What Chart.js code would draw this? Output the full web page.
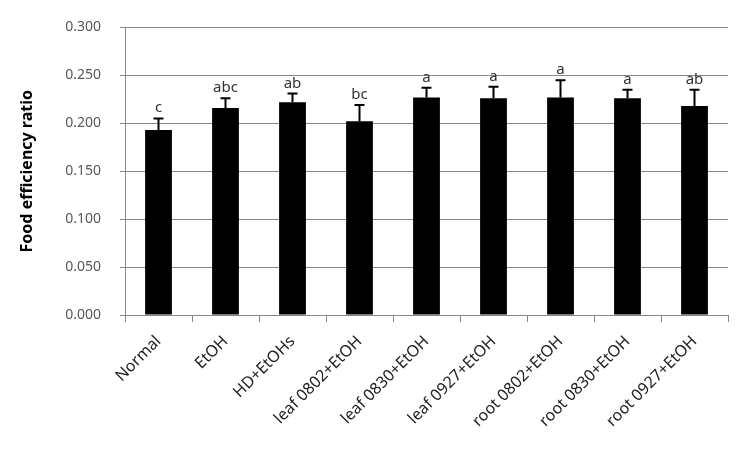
<!DOCTYPE html>
<html>
<head>
<meta charset="utf-8">
<script src="https://cdn.jsdelivr.net/npm/chart.js@4"></script>
<style>
  html, body { margin: 0; padding: 0; background: #fff; }
  #wrap { width: 752px; height: 451px; }
</style>
</head>
<body>
<div id="wrap"><canvas id="myChart"></canvas></div>
<script>
const categories = ["Normal", "EtOH", "HD+EtOHs", "leaf 0802+EtOH", "leaf 0830+EtOH",
  "leaf 0927+EtOH", "root 0802+EtOH", "root 0830+EtOH", "root 0927+EtOH"];
const ferValues = [0.193, 0.216, 0.222, 0.202, 0.227, 0.226, 0.227, 0.226, 0.218];
const ferErrors = [0.012, 0.010, 0.009, 0.017, 0.010, 0.012, 0.018, 0.009, 0.017];
const sigLetters = ["c", "abc", "ab", "bc", "a", "a", "a", "a", "ab"];
const yTicks = [0, 0.05, 0.1, 0.15, 0.2, 0.25, 0.3];

const ctx = document.getElementById("myChart");

// error bars (upper only) + significance letters above them
const errorBars = {
  id: "errorBars",
  afterDatasetsDraw(chart) {
    const c = chart.ctx;
    const meta = chart.getDatasetMeta(0);
    const y = chart.scales.y;
    c.save();
    c.strokeStyle = "#000";
    c.lineWidth = 2;
    meta.data.forEach((bar, i) => {
      const top = y.getPixelForValue(ferValues[i] + ferErrors[i]);
      const base = y.getPixelForValue(ferValues[i]);
      c.beginPath();
      c.moveTo(bar.x, base);
      c.lineTo(bar.x, top);
      c.moveTo(bar.x - 5, top);
      c.lineTo(bar.x + 5, top);
      c.stroke();
      c.fillStyle = "#333";
      c.font = "15px 'Noto Sans'";
      c.textAlign = "center";
      c.textBaseline = "alphabetic";
      c.fillText(sigLetters[i], bar.x, top - 6);
    });
    c.restore();
  }
};

new Chart(ctx, {
  type: "bar",
  data: {
    labels: categories,
    datasets: [{
      data: ferValues,
      backgroundColor: "#000",
      barPercentage: 0.4,
      categoryPercentage: 1.0
    }]
  },
  options: {
    responsive: true,
    maintainAspectRatio: false,
    animation: false,
    layout: { padding: { top: 25, right: 24, left: 18, bottom: 0 } },
    plugins: {
      legend: { display: false },
      tooltip: { enabled: false }
    },
    scales: {
      y: {
        min: 0,
        max: 0.3,
        afterBuildTicks: (s) => { s.ticks = yTicks.map(v => ({ value: v })); },
        afterFit: (s) => { s.width = 107; },
        border: { color: "#868686", width: 1 },
        grid: { color: "#868686", tickLength: 5, tickColor: "#868686" },
        ticks: {
          color: "#595959",
          padding: 19,
          font: { family: "'Noto Sans'", size: 14 },
          callback: (v) => Number(v).toFixed(3)
        },
        title: {
          display: true,
          text: "Food efficiency ratio",
          color: "#000",
          font: { family: "'Noto Sans'", size: 16, weight: "bold" },
          padding: { top: 0, bottom: 4 }
        }
      },
      x: {
        afterFit: (s) => { s.height = 136; },
        border: { color: "#868686", width: 1 },
        grid: { offset: true, drawOnChartArea: false, tickLength: 7, tickColor: "#868686" },
        ticks: {
          color: "#222",
          minRotation: 45,
          maxRotation: 45,
          padding: 10,
          font: { family: "'Noto Sans'", size: 16 }
        }
      }
    }
  },
  plugins: [errorBars]
});
</script>
</body>
</html>
